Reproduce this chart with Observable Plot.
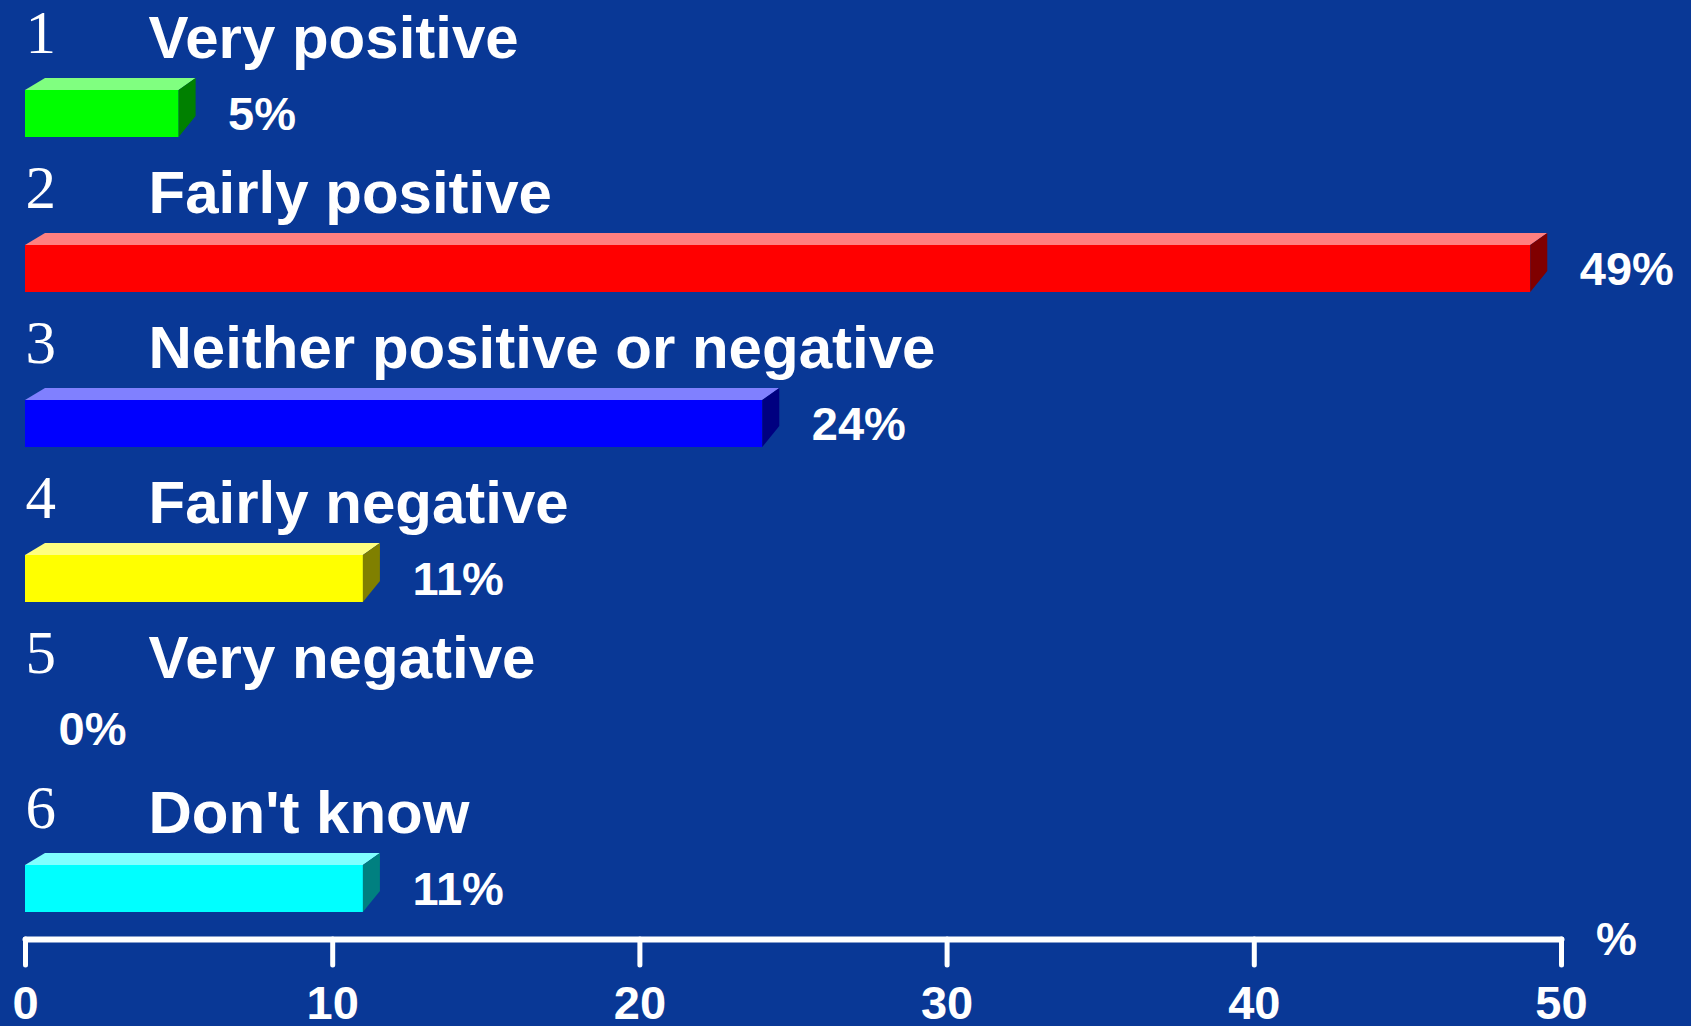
<!DOCTYPE html>
<html><head><meta charset="utf-8">
<script src="https://cdn.jsdelivr.net/npm/d3@7"></script>
<script src="https://cdn.jsdelivr.net/npm/@observablehq/plot@0.6"></script>
<style>html,body{margin:0;padding:0;background:#093896;overflow:hidden}</style>
</head><body><div id="chart"></div>
<script>
const ranks = ["1","2","3","4","5","6"];
const categories = ["Very positive","Fairly positive","Neither positive or negative","Fairly negative","Very negative","Don't know"];
const values = [5, 49, 24, 11, 0, 11];
const frontColors = ["#00ff00","#ff0000","#0000ff","#ffff00","#ff00ff","#00ffff"];
const topColors   = ["#80ff80","#ff8080","#8080ff","#ffff80","#ff80ff","#80ffff"];
const sideColors  = ["#008000","#800000","#000080","#808000","#800080","#008080"];
const tickValues = [0, 10, 20, 30, 40, 50];

const data = categories.map((c, i) => ({rank: ranks[i], category: c, value: values[i],
  front: frontColors[i], top: topColors[i], side: sideColors[i], label: values[i] + "%"}));
const barData = data.filter(d => d.value > 0);
const zeroData = data.filter(d => d.value === 0);

function depthFaces(index, scales) {
  const x = scales.x, y = scales.y;
  const bw = typeof y.bandwidth === "function" ? y.bandwidth() : scales.scales.y.bandwidth;
  const g = d3.create("svg:g");
  for (const d of barData) {
    const x0 = x(0), x1 = x(d.value), yt = y(d.category), yb = yt + bw;
    g.append("polygon")
      .attr("points", [[x0, yt], [x1, yt], [x1 + 17, yt - 12], [x0 + 20, yt - 12]].join(" "))
      .attr("fill", d.top);
    g.append("polygon")
      .attr("points", [[x1, yt], [x1 + 17, yt - 12], [x1 + 17, yb - 21], [x1, yb]].join(" "))
      .attr("fill", d.side);
  }
  return g.node();
}

const chart = Plot.plot({
  width: 1691, height: 1026,
  marginLeft: 25, marginRight: 130, marginTop: 0, marginBottom: 87,
  style: {background: "#093896", color: "white", fontFamily: "'Liberation Sans', Arial, sans-serif", overflow: "visible"},
  x: {domain: [0, 50]},
  y: {domain: categories, range: [88.5, 913], paddingInner: 0.7, paddingOuter: 0, axis: null},
  color: {type: "identity"},
  marks: [
    Plot.barX(barData, {x: "value", y: "category", fill: "front", inset: 0}),
    depthFaces,
    Plot.text(data, {x: 0, y: "category", text: "rank", textAnchor: "start", lineAnchor: "bottom",
      dy: -61, fontSize: 61, fontFamily: "'Liberation Serif', 'Times New Roman', serif", fill: "white"}),
    Plot.text(data, {x: 0, y: "category", text: "category", textAnchor: "start", lineAnchor: "bottom",
      dx: 123, dy: -56, fontSize: 60, fontWeight: "bold", fill: "white"}),
    Plot.text(barData, {x: "value", y: "category", text: "label", textAnchor: "start", lineAnchor: "bottom",
      dx: 49, dy: 16, fontSize: 47, fontWeight: "bold", fill: "white"}),
    Plot.text(zeroData, {x: "value", y: "category", text: "label", textAnchor: "start", lineAnchor: "bottom",
      dx: 33, dy: 11, fontSize: 47, fontWeight: "bold", fill: "white"}),
    Plot.frame({anchor: "bottom", stroke: "white", strokeWidth: 6, strokeLinecap: "round"}),
    Plot.axisX({ticks: tickValues, tickSize: 26, tickPadding: 20, stroke: "white", strokeWidth: 5,
      strokeLinecap: "round", fill: "white", fontSize: 47, fontWeight: "bold", label: null}),
    Plot.text(["%"], {x: 50, frameAnchor: "bottom", text: d => d, textAnchor: "middle", lineAnchor: "bottom",
      dx: 55, dy: 15, fontSize: 46, fontWeight: "bold", fill: "white"})
  ]
});
document.getElementById("chart").appendChild(chart);
</script>
</body></html>
